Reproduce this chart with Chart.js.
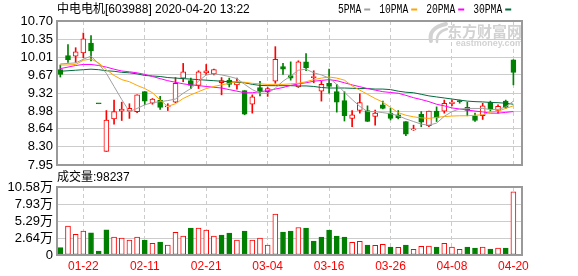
<!DOCTYPE html>
<html>
<head>
<meta charset="utf-8">
<script src="https://cdn.jsdelivr.net/npm/chart.js@4"></script>
<style>
  body { margin: 0; background: #fff; }
  #wrap { position: relative; width: 578px; height: 276px; }
  .box { position: absolute; left: 0; width: 578px; }
</style>
</head>
<body>
<div id="wrap">
  <div class="box" style="top:0;height:180px"><canvas id="price"></canvas></div>
  <div class="box" style="top:170px;height:106px"><canvas id="vol"></canvas></div>
</div>
<script>
// 日期
var dates = ['01-17','01-20','01-21','01-22','01-23','02-03','02-04','02-05','02-06','02-07',
  '02-10','02-11','02-12','02-13','02-14','02-17','02-18','02-19','02-20','02-21',
  '02-24','02-25','02-26','02-27','02-28','03-02','03-03','03-04','03-05','03-06',
  '03-09','03-10','03-11','03-12','03-13','03-16','03-17','03-18','03-19','03-20',
  '03-23','03-24','03-25','03-26','03-27','03-30','03-31','04-01','04-02','04-03',
  '04-07','04-08','04-09','04-10','04-13','04-14','04-15','04-16','04-17','04-20'];
var axisDates = ['01-22','02-11','02-21','03-04','03-16','03-26','04-08','04-20'];

// K线
var opens  = [9.77,10.04,10.03,10.09,10.28,9.12,8.21,8.83,8.98,8.98,
  8.97,9.35,9.13,9.19,9.06,9.15,9.61,9.56,9.47,9.71,
  9.69,9.52,9.57,9.48,9.37,9.11,9.43,9.35,9.55,9.83,
  9.66,9.44,9.92,9.62,9.36,9.51,9.35,9.18,8.84,8.99,
  8.99,8.88,9.10,8.94,8.91,8.78,8.62,8.92,8.70,8.98,
  8.98,9.12,9.17,9.05,8.89,8.89,9.15,8.99,9.17,9.96];
var highs  = [9.86,10.25,10.19,10.47,10.42,9.12,8.99,9.19,9.15,9.12,
  9.29,9.35,9.22,9.26,9.12,9.62,9.89,9.61,9.75,9.87,
  9.78,9.62,9.61,9.61,9.37,9.29,9.55,9.43,10.21,9.89,
  9.92,9.94,10.08,9.75,9.55,9.78,9.49,9.35,8.99,9.31,
  9.08,9.00,9.17,9.03,8.99,8.78,8.71,8.97,8.98,9.06,
  9.19,9.19,9.19,9.15,8.94,9.13,9.17,9.10,9.19,9.96];
var lows   = [9.63,9.91,9.91,10.00,9.94,9.12,8.21,8.73,8.80,8.84,
  8.95,9.10,9.11,9.01,8.99,9.14,9.54,9.41,9.41,9.67,
  9.67,9.29,9.44,9.40,8.91,8.94,9.27,9.26,9.51,9.68,
  9.57,9.43,9.75,9.52,9.17,9.32,8.96,8.79,8.68,8.94,
  8.78,8.71,9.02,8.81,8.83,8.51,8.61,8.68,8.68,8.78,
  8.94,9.08,9.13,8.89,8.78,8.82,8.98,8.94,9.03,9.48];
var closes = [9.68,9.96,10.11,10.36,10.13,9.12,8.81,8.97,9.02,9.03,
  9.29,9.17,9.21,9.05,9.08,9.51,9.73,9.47,9.73,9.75,
  9.77,9.56,9.49,9.54,8.92,9.25,9.37,9.41,9.97,9.78,
  9.61,9.92,9.81,9.64,9.49,9.45,9.15,8.89,8.91,9.14,
  8.78,8.94,9.03,8.84,8.85,8.54,8.64,8.77,8.98,8.85,
  9.13,9.15,9.16,8.99,8.80,9.08,9.02,9.07,9.05,9.72];
var firstPrevClose = 9.80;

// 均线
var ma5  = [9.88,9.89,9.90,9.97,10.03,9.88,9.70,9.45,9.20,8.97,
  9.03,9.10,9.14,9.16,9.18,9.21,9.32,9.41,9.55,9.67,
  9.69,9.67,9.64,9.60,9.49,9.39,9.32,9.32,9.42,9.55,
  9.65,9.76,9.78,9.71,9.67,9.61,9.49,9.34,9.20,9.07,
  8.97,8.97,8.95,8.93,8.89,8.83,8.78,8.73,8.71,8.75,
  8.88,8.97,9.02,9.03,9.03,9.03,9.01,9.01,9.06,9.17];
var ma10 = [9.86,9.86,9.87,9.95,9.975,9.90,9.77,9.66,9.58,9.54,
  9.47,9.41,9.33,9.19,9.07,9.12,9.22,9.29,9.35,9.41,
  9.45,9.48,9.51,9.54,9.53,9.51,9.50,9.49,9.49,9.49,
  9.50,9.51,9.54,9.58,9.61,9.63,9.61,9.57,9.46,9.38,
  9.30,9.22,9.15,9.05,8.95,8.90,8.87,8.85,8.84,8.86,
  8.875,8.885,8.89,8.89,8.90,8.91,8.96,8.98,9.03,9.08];
var ma20 = [9.79,9.82,9.85,9.87,9.87,9.85,9.82,9.78,9.745,9.73,
  9.71,9.68,9.64,9.60,9.56,9.53,9.50,9.48,9.465,9.45,
  9.435,9.42,9.39,9.36,9.33,9.33,9.35,9.37,9.40,9.43,
  9.47,9.50,9.52,9.55,9.565,9.58,9.56,9.52,9.48,9.445,
  9.41,9.38,9.35,9.335,9.32,9.28,9.235,9.20,9.16,9.11,
  9.08,9.04,9.02,9.00,8.98,8.965,8.94,8.94,8.955,8.97];
var ma30 = [9.74,9.75,9.76,9.77,9.78,9.77,9.75,9.74,9.72,9.71,
  9.69,9.66,9.65,9.64,9.62,9.61,9.60,9.59,9.58,9.57,
  9.56,9.55,9.54,9.53,9.52,9.49,9.47,9.465,9.465,9.465,
  9.465,9.46,9.46,9.45,9.43,9.42,9.42,9.42,9.415,9.41,
  9.41,9.40,9.40,9.39,9.36,9.34,9.33,9.30,9.27,9.25,
  9.23,9.21,9.19,9.17,9.16,9.155,9.145,9.14,9.13,9.11];

// 成交量（万）
var volumes = [1.14,4.49,3.20,3.72,3.46,0.62,3.92,2.79,2.63,2.32,
  2.79,2.32,1.81,2.01,1.55,3.51,2.94,4.18,4.18,3.87,
  2.94,3.10,3.41,2.32,3.72,2.32,2.63,1.55,6.35,3.56,
  3.72,4.28,4.18,2.17,2.79,3.87,2.94,2.79,1.96,2.12,
  1.55,1.50,1.65,1.24,1.19,1.55,0.88,1.34,1.39,1.24,
  1.81,1.24,0.88,1.24,1.08,1.24,0.93,1.08,1.08,9.82];

// 刻度
var priceTicks = [7.95, 8.30, 8.64, 8.98, 9.32, 9.67, 10.01, 10.35, 10.70];
var volTicks = [0, 2.64, 5.29, 7.93, 10.58];

var maNames = ['5PMA', '10PMA', '20PMA', '30PMA'];
var maColors = ['#a0a0a0', '#ffa500', '#ff00ff', '#006b3c'];
var titleText = '中电电机[603988] 2020-04-20 13:22';
var volText = '成交量:98237';

var RED = '#ff0000', GREEN = '#008000';
var FONT = '"Liberation Sans", Arial, "Noto Sans CJK SC", sans-serif';

var idx = dates.map(function (d, i) { return i; });
var prevCloses = closes.map(function (c, i) { return i === 0 ? firstPrevClose : closes[i - 1]; });
var candleUp = idx.map(function (i) {
  return closes[i] > opens[i] || (closes[i] === opens[i] && closes[i] >= prevCloses[i]);
});
var volUp = idx.map(function (i) { return closes[i] >= prevCloses[i]; });

function xScale(showLabels) {
  return {
    type: 'linear', min: -0.43, max: 60.12, offset: false,
    afterBuildTicks: function (s) {
      s.ticks = axisDates.map(function (d) { return { value: dates.indexOf(d) }; });
    },
    grid: { color: '#cccccc', drawTicks: false, offset: false },
    border: { display: false, dash: [4, 3] },
    ticks: {
      display: showLabels, autoSkip: false, maxRotation: 0, padding: 4,
      color: RED, font: { size: 12, family: FONT },
      callback: function (v) { return dates[v]; }
    },
    afterFit: function (s) { s.height = showLabels ? 21 : 0; }
  };
}

function yScale(ticks, fmt) {
  return {
    min: ticks[0], max: ticks[ticks.length - 1],
    afterBuildTicks: function (s) { s.ticks = ticks.map(function (v) { return { value: v }; }); },
    grid: { color: '#cccccc', drawTicks: false },
    border: { display: false },
    ticks: { autoSkip: false, color: '#000', font: { size: 13, family: FONT }, padding: 4, callback: fmt },
    afterFit: function (s) { s.width = 57; }
  };
}

var framePlugin = {
  id: 'frame',
  afterDatasetsDraw: function (chart) {
    var a = chart.chartArea, ctx = chart.ctx;
    ctx.save();
    ctx.strokeStyle = '#999';
    ctx.lineWidth = 2;
    ctx.strokeRect(a.left, a.top, a.right - a.left, a.bottom - a.top);
    ctx.restore();
  }
};

// 水印
var markPlugin = {
  id: 'mark',
  beforeDatasetsDraw: function (chart) {
    var ctx = chart.ctx;
    ctx.save();
    ctx.fillStyle = '#d2d2d2';
    ctx.strokeStyle = '#d2d2d2';
    ctx.lineWidth = 4;
    ctx.lineCap = 'round';
    ctx.beginPath();
    ctx.moveTo(431, 41);
    ctx.quadraticCurveTo(428, 28, 446, 24);
    ctx.stroke();
    ctx.lineWidth = 2.5;
    ctx.beginPath();
    ctx.moveTo(437, 42);
    ctx.quadraticCurveTo(436, 32, 447, 29);
    ctx.stroke();
    ctx.textAlign = 'right';
    ctx.textBaseline = 'middle';
    ctx.font = 'bold 15px "Noto Sans CJK SC"';
    ctx.fillText('东方财富网', 522, 31);
    ctx.font = 'bold 9px ' + FONT;
    ctx.fillText('eastmoney.com', 523, 43.5);
    ctx.restore();
  }
};

var headPlugin = {
  id: 'head',
  afterDraw: function (chart) {
    var ctx = chart.ctx;
    ctx.save();
    ctx.textBaseline = 'middle';
    ctx.textAlign = 'left';
    ctx.fillStyle = '#000';
    ctx.font = '12px ' + FONT;
    ctx.fillText(titleText, 57, 10);
    var x = 338;
    maNames.forEach(function (n, k) {
      var w = n.length * 5.8;
      ctx.font = '12px "Liberation Mono", monospace';
      ctx.fillStyle = '#000';
      ctx.fillText(n, x, 10, w);
      x += w + 3;
      ctx.fillStyle = maColors[k];
      ctx.fillRect(x, 8.5, 6, 2);
      x += 6 + 9;
    });
    ctx.restore();
  }
};

var volHeadPlugin = {
  id: 'volHead',
  afterDraw: function (chart) {
    var ctx = chart.ctx;
    ctx.save();
    ctx.textBaseline = 'middle';
    ctx.fillStyle = '#000';
    ctx.font = '12px ' + FONT;
    ctx.fillText(volText, 57, 7.5);
    ctx.restore();
  }
};

function maDataset(k, values) {
  return {
    type: 'line', label: maNames[k],
    data: values.map(function (v, i) { return { x: i, y: v }; }),
    borderColor: maColors[k], borderWidth: 1, pointRadius: 0, tension: 0, order: 0
  };
}

new Chart(document.getElementById('price'), {
  type: 'bar',
  data: {
    datasets: [
      maDataset(0, ma5), maDataset(1, ma10), maDataset(2, ma20), maDataset(3, ma30),
      {
        label: 'body',
        data: idx.map(function (i) { return { x: i, y: [opens[i], closes[i]] }; }),
        backgroundColor: idx.map(function (i) { return candleUp[i] ? '#fff' : GREEN; }),
        borderColor: idx.map(function (i) { return candleUp[i] ? RED : GREEN; }),
        borderWidth: 1, borderSkipped: false, barThickness: 5, minBarLength: 1,
        grouped: false, order: 1
      },
      {
        label: 'wick',
        data: idx.map(function (i) { return { x: i, y: [lows[i], highs[i]] }; }),
        backgroundColor: idx.map(function (i) { return candleUp[i] ? RED : GREEN; }),
        barThickness: 1, grouped: false, order: 2
      }
    ]
  },
  options: {
    responsive: true, maintainAspectRatio: false, animation: false, devicePixelRatio: 1,
    events: [],
    layout: { padding: { left: 0, right: 56, top: 21, bottom: 15 } },
    plugins: { legend: { display: false }, tooltip: { enabled: false } },
    scales: {
      x: xScale(false),
      y: yScale(priceTicks, function (v) { return v.toFixed(2); })
    }
  },
  plugins: [markPlugin, framePlugin, headPlugin]
});

new Chart(document.getElementById('vol'), {
  type: 'bar',
  data: {
    datasets: [{
      label: 'volume',
      data: idx.map(function (i) { return { x: i, y: volumes[i] }; }),
      backgroundColor: idx.map(function (i) { return volUp[i] ? '#fff' : GREEN; }),
      borderColor: idx.map(function (i) { return volUp[i] ? RED : GREEN; }),
      borderWidth: 1, borderSkipped: false, barThickness: 5, grouped: false
    }]
  },
  options: {
    responsive: true, maintainAspectRatio: false, animation: false, devicePixelRatio: 1,
    events: [],
    layout: { padding: { left: 0, right: 56, top: 17, bottom: 0 } },
    plugins: { legend: { display: false }, tooltip: { enabled: false } },
    scales: {
      x: xScale(true),
      y: yScale(volTicks, function (v) { return v === 0 ? '0' : v.toFixed(2) + '万'; })
    }
  },
  plugins: [framePlugin, volHeadPlugin]
});
</script>
</body>
</html>
